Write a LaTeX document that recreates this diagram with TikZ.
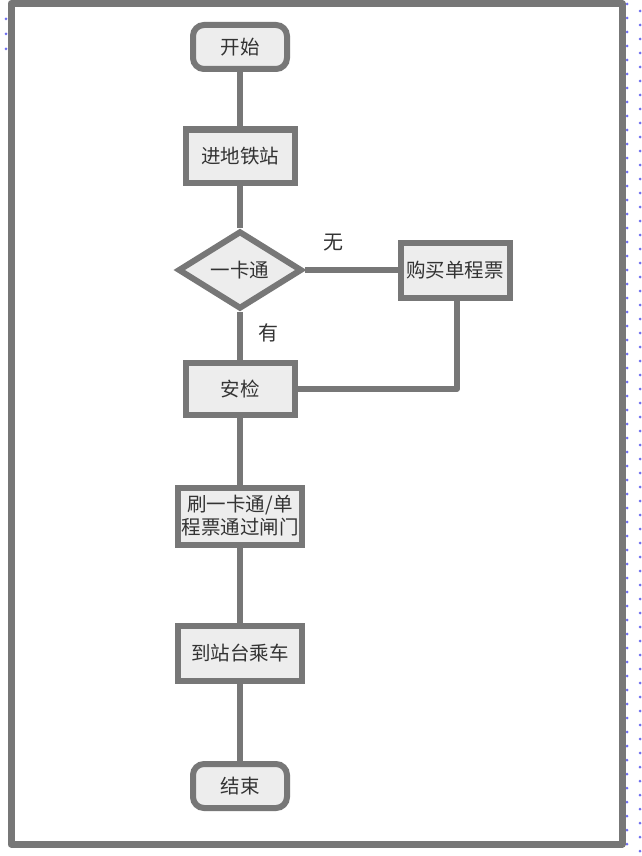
\documentclass[tikz,border=0pt]{standalone}
\usepackage{fontspec}
\newfontfamily\cjk{Noto Sans CJK SC}
\usetikzlibrary{shapes.geometric}
\definecolor{gcol}{HTML}{777777}
\definecolor{boxfill}{HTML}{EDEDED}
\definecolor{dotblue}{HTML}{6F6FF0}
\tikzset{
  base/.style={draw=gcol, line width=6pt, fill=boxfill, inner sep=0pt, align=center,
    font=\cjk\fontsize{19.5}{23}\selectfont, text=black!80},
  stepbox/.style={base, rectangle, minimum width=109pt, minimum height=52pt},
  widebox/.style={base, rectangle, minimum width=124pt, minimum height=55pt},
  termbox/.style={base, rectangle, rounded corners=11pt, minimum width=94pt, minimum height=44pt},
  decbox/.style={base, diamond, minimum width=124pt, minimum height=78pt},
  conn/.style={draw=gcol, line width=5.5pt},
  lbl/.style={font=\cjk\fontsize{20}{22}\selectfont, text=black!80, inner sep=0pt}
}
\begin{document}
\begin{tikzpicture}[x=1pt,y=-1pt]
\useasboundingbox (0,0) rectangle (641,856);
\fill[white] (0,0) rectangle (641,856);
% page guide dots
\draw[dotblue, line width=3pt, line cap=round, dash pattern=on 0pt off 14pt] (627,4) -- (627,856);
\draw[dotblue, line width=3pt, line cap=round, dash pattern=on 0pt off 14pt] (640,11) -- (640,856);
\draw[dotblue, line width=3pt, line cap=round, dash pattern=on 0pt off 15pt] (6,19) -- (6,50);
% frame
\draw[gcol, line width=7pt, line join=round] (11,3.5) -- (622,3.5) -- (622,844) -- (11,844) -- cycle;
% nodes
\node[termbox] (start) at (240,47) {开始};
\node[stepbox, minimum height=53pt] (enter) at (240,156) {进地铁站};
\node[decbox] (card) at (240,270) {一卡通};
\node[stepbox, minimum height=55pt] (buy) at (455,270) {购买单程票};
\node[stepbox] (check) at (240,389) {安检};
\node[widebox, minimum height=57pt] (gate) at (240,516) {刷一卡通/单\\程票通过闸门};
\node[widebox] (plat) at (240,653) {到站台乘车};
\node[termbox] (end) at (240,786) {结束};
% connectors
\draw[conn] (start) -- (enter);
\draw[conn] (enter) -- (card);
\draw[conn] (card.south) -- (check.north);
\draw[conn] (card.east) -- (buy.west);
\draw[conn, line join=round] (buy.south -| 457,0) |- (check.east);
\draw[conn] (check) -- (gate);
\draw[conn] (gate) -- (plat);
\draw[conn] (plat) -- (end);
% labels
\node[lbl] (lno) at (333,243) {无};
\node[lbl] (lyes) at (268,333) {有};
\end{tikzpicture}
\end{document}
